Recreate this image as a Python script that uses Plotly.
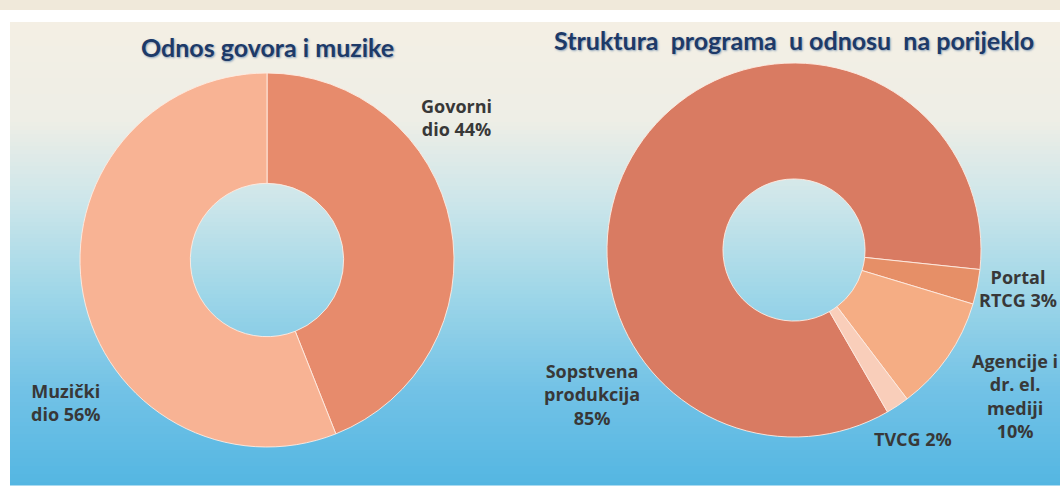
import plotly.graph_objects as go

# ---- data ----
left_title = "Odnos govora i muzike"
left_labels = ["Govorni dio", "Muzički dio"]
left_values = [44, 56]

right_title = "Struktura\u00a0 programa\u00a0 u odnosu\u00a0 na porijeklo"
right_labels = ["Sopstvena produkcija", "Portal RTCG", "Agencije i dr. el. mediji", "TVCG"]
right_values = [85, 3, 10, 2]

left_label_text = ["Govorni<br>dio 44%", "Muzički<br>dio 56%"]
right_label_text = ["Sopstvena<br>produkcija<br>85%", "Portal<br>RTCG 3%", "Agencije i<br>dr. el.<br>mediji<br>10%", "TVCG 2%"]

# ---- styling ----
W, H = 1060, 493
left_colors = ["#E78B6C", "#F8B394"]
right_colors = ["#D97B62", "#E68F67", "#F5AD84", "#F9CEBA"]

def px(x):
    return x / W

def py(y):
    return 1 - y / H

fig = go.Figure()

fig.add_trace(go.Pie(
    labels=left_labels, values=left_values, hole=0.41, sort=False,
    direction="clockwise", rotation=0, textinfo="none", hoverinfo="label+percent",
    marker=dict(colors=left_colors, line=dict(color="rgba(255,235,225,0.9)", width=1)),
    domain=dict(x=[px(80), px(454)], y=[py(447), py(73)]),
    showlegend=False,
))
fig.add_trace(go.Pie(
    labels=right_labels, values=right_values, hole=0.38, sort=False,
    direction="clockwise", rotation=150, textinfo="none", hoverinfo="label+percent",
    marker=dict(colors=right_colors, line=dict(color="rgba(255,235,225,0.9)", width=1)),
    domain=dict(x=[px(607), px(981)], y=[py(437), py(63)]),
    showlegend=False,
))

# background gradient (cream at top -> sky blue at bottom)
stops = [
    (22, (244, 239, 228)),
    (120, (238, 238, 230)),
    (200, (205, 230, 234)),
    (290, (160, 215, 232)),
    (390, (114, 194, 230)),
    (485, (84, 182, 226)),
]

def col_at(y):
    for (y0, c0), (y1, c1) in zip(stops[:-1], stops[1:]):
        if y0 <= y <= y1:
            t = (y - y0) / (y1 - y0)
            return "rgb(%d,%d,%d)" % tuple(round(a + (b - a) * t) for a, b in zip(c0, c1))
    return "rgb(%d,%d,%d)" % stops[-1][1]

shapes = []
shapes.append(dict(type="rect", xref="paper", yref="paper", x0=0, x1=1,
                   y0=py(10), y1=1, fillcolor="rgb(240,233,218)", line_width=0, layer="below"))
step = 4
y = 22
while y < 485:
    y2 = min(y + step, 485)
    shapes.append(dict(type="rect", xref="paper", yref="paper", x0=px(10), x1=1,
                       y0=py(y2 + 0.5), y1=py(y), fillcolor=col_at((y + y2) / 2),
                       line_width=0, layer="below"))
    y = y2

title_font = dict(family="Lato, 'Open Sans', sans-serif", size=25, color="#1D3A68",
                  weight="bold", shadow="1px 1px 2px rgba(60,100,150,0.55)")
label_font = dict(family="'Open Sans', Lato, sans-serif", size=18, color="#383838", weight="bold")

annotations = [
    dict(text=left_title, x=px(267), y=py(47), font=title_font),
    dict(text=right_title, x=px(794), y=py(40), font=title_font),
    dict(text=left_label_text[0], x=px(456), y=py(117), font=label_font),
    dict(text=left_label_text[1], x=px(66), y=py(402), font=label_font),
    dict(text=right_label_text[0], x=px(592), y=py(394), font=label_font),
    dict(text=right_label_text[1], x=px(1018), y=py(288), font=label_font),
    dict(text=right_label_text[2], x=px(1015), y=py(396), font=label_font),
    dict(text=right_label_text[3], x=px(913), y=py(439), font=label_font),
]
for a in annotations:
    a.update(xref="paper", yref="paper", showarrow=False, xanchor="center", yanchor="middle")

fig.update_layout(
    width=W, height=H,
    margin=dict(l=0, r=0, t=0, b=0),
    paper_bgcolor="white", plot_bgcolor="white",
    shapes=shapes, annotations=annotations,
)

fig.write_html("out.html")
